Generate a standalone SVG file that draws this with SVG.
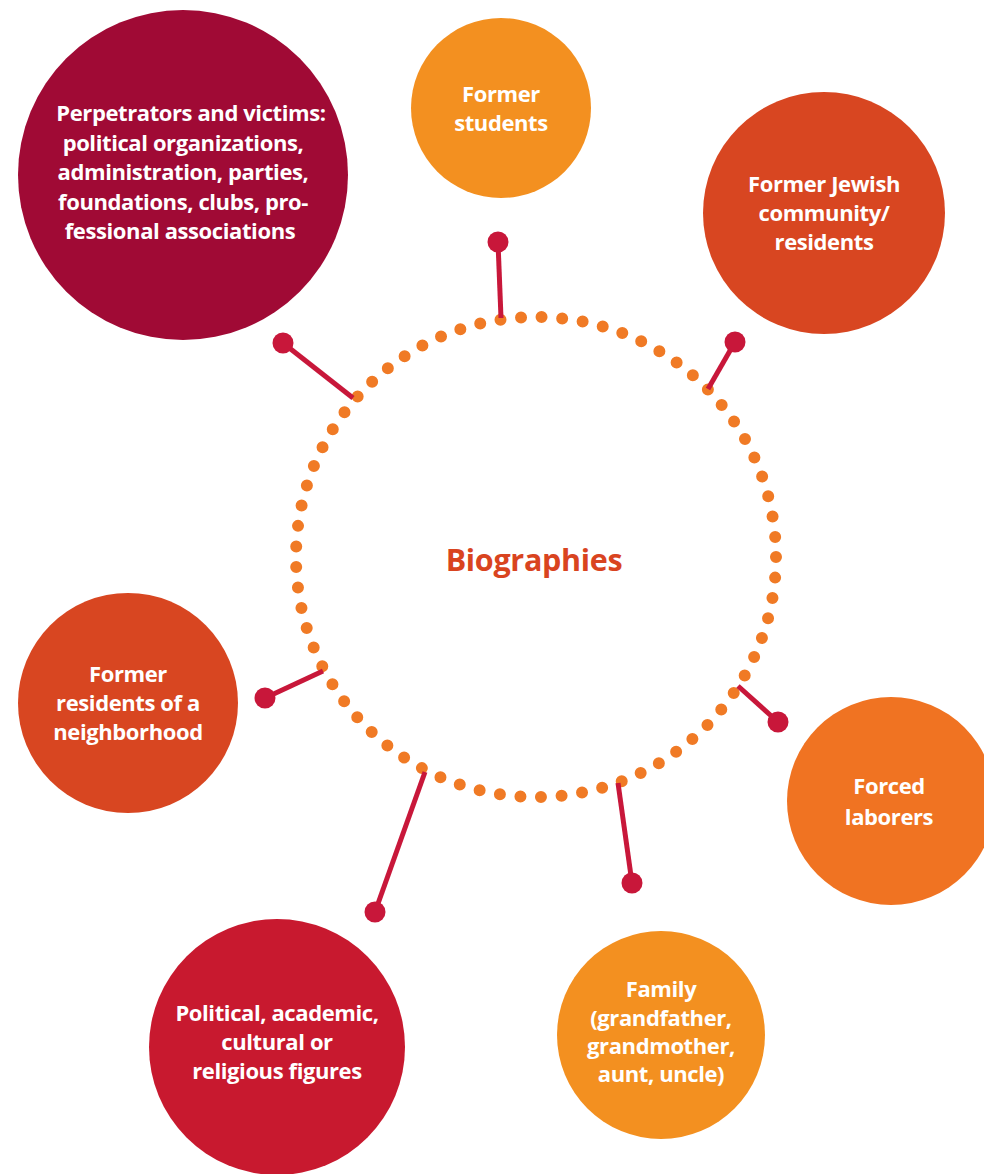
<svg xmlns="http://www.w3.org/2000/svg" width="984" height="1174" viewBox="0 0 984 1174">
<style>
.lbl{font-family:"Open Sans","Noto Sans","Liberation Sans",sans-serif;font-weight:700;font-size:22px;fill:#ffffff;text-anchor:middle;letter-spacing:-0.4px}
.title{font-family:"Open Sans","Noto Sans","Liberation Sans",sans-serif;font-weight:700;font-size:30.5px;fill:#d9441f;text-anchor:middle;letter-spacing:-0.3px}
.conn line{stroke:#c8173a;stroke-width:5}
.conn circle{fill:#c8173a}
</style>
<rect width="984" height="1174" fill="#ffffff"/>
<g id="center">
<circle cx="536" cy="557" r="240" fill="none" stroke="#f07a25" stroke-width="12" stroke-linecap="round" stroke-dasharray="0 20.657"/>
<text class="title" x="534" y="571">Biographies</text>
</g>
<g id="connectors" class="conn">
<line x1="283" y1="343" x2="353" y2="398"/><circle cx="283" cy="343" r="10.5"/>
<line x1="498" y1="242" x2="501" y2="318"/><circle cx="498" cy="242" r="10.5"/>
<line x1="735" y1="342" x2="708" y2="389"/><circle cx="735" cy="342" r="10.5"/>
<line x1="265" y1="698" x2="323" y2="671"/><circle cx="265" cy="698" r="10.5"/>
<line x1="778" y1="722" x2="738" y2="686"/><circle cx="778" cy="722" r="10.5"/>
<line x1="632" y1="883" x2="618" y2="783"/><circle cx="632" cy="883" r="10.5"/>
<line x1="375" y1="912" x2="425" y2="772"/><circle cx="375" cy="912" r="10.5"/>
</g>
<g id="perpetrators">
<circle cx="183" cy="175" r="165" fill="#a00a35"/>
<text class="lbl" x="191" y="121">Perpetrators and victims:</text>
<text class="lbl" x="183" y="150.5">political organizations,</text>
<text class="lbl" x="183" y="180">administration, parties,</text>
<text class="lbl" x="183" y="209.5">foundations, clubs, pro-</text>
<text class="lbl" x="180" y="239">fessional associations</text>
</g>
<g id="students">
<circle cx="501" cy="108" r="90" fill="#f39020"/>
<text class="lbl" x="501" y="102">Former</text>
<text class="lbl" x="501" y="131">students</text>
</g>
<g id="jewish">
<circle cx="824" cy="213" r="121" fill="#d84621"/>
<text class="lbl" x="824" y="192">Former Jewish</text>
<text class="lbl" x="824" y="221">community/</text>
<text class="lbl" x="824" y="250">residents</text>
</g>
<g id="neighborhood">
<circle cx="128" cy="703" r="110" fill="#d84621"/>
<text class="lbl" x="128" y="682">Former</text>
<text class="lbl" x="128" y="711">residents of a</text>
<text class="lbl" x="128" y="740">neighborhood</text>
</g>
<g id="forced">
<circle cx="891" cy="801" r="104" fill="#f07322"/>
<text class="lbl" x="889" y="794">Forced</text>
<text class="lbl" x="889" y="825">laborers</text>
</g>
<g id="family">
<circle cx="661" cy="1035" r="104" fill="#f39020"/>
<text class="lbl" x="661" y="997">Family</text>
<text class="lbl" x="661" y="1026">(grandfather,</text>
<text class="lbl" x="661" y="1054">grandmother,</text>
<text class="lbl" x="661" y="1082">aunt, uncle)</text>
</g>
<g id="political">
<circle cx="277" cy="1047" r="128" fill="#c8192f"/>
<text class="lbl" x="277" y="1021">Political, academic,</text>
<text class="lbl" x="277" y="1050">cultural or</text>
<text class="lbl" x="277" y="1079">religious figures</text>
</g>
</svg>
